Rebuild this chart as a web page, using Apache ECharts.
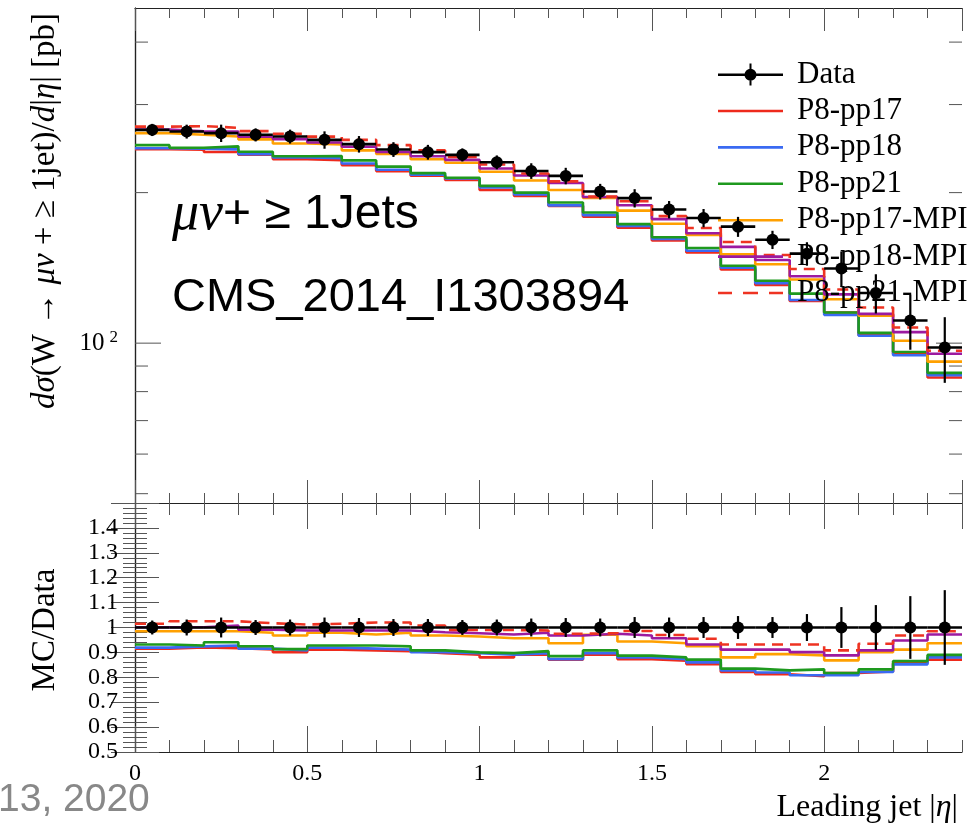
<!DOCTYPE html>
<html>
<head>
<meta charset="utf-8">
<script src="https://cdn.jsdelivr.net/npm/echarts@6/dist/echarts.min.js"></script>
<style>
html, body { margin: 0; padding: 0; background: #fff; }
#main { width: 970px; height: 827px; }
</style>
</head>
<body>
<div id="main"></div>
<script>
// bins of leading jet |eta|
var binEdges = [0, 0.1, 0.2, 0.3, 0.4, 0.5, 0.6, 0.7, 0.8, 0.9, 1.0, 1.1, 1.2,
                1.3, 1.4, 1.5, 1.6, 1.7, 1.8, 1.9, 2.0, 2.1, 2.2, 2.3, 2.4];

// data, pb
var dataValues = [267, 265, 263, 261, 259, 255, 250, 244, 241, 238, 230, 221,
                  216, 201, 195, 185, 178, 171, 161, 151, 141, 126, 111, 98];
// relative error of data
var dataRelErr = [0.028, 0.032, 0.040, 0.030, 0.032, 0.040, 0.038, 0.034, 0.034, 0.030, 0.032, 0.036,
                  0.038, 0.036, 0.042, 0.040, 0.042, 0.046, 0.042, 0.054, 0.082, 0.090, 0.126, 0.150];

// MC/Data ratios
var ratioPP17 = [0.915, 0.920, 0.917, 0.912, 0.901, 0.911, 0.908, 0.905, 0.897, 0.891, 0.880, 0.891,
                 0.871, 0.891, 0.873, 0.867, 0.853, 0.821, 0.812, 0.804, 0.817, 0.823, 0.857, 0.871];
var ratioPP18 = [0.919, 0.924, 0.928, 0.915, 0.908, 0.919, 0.915, 0.911, 0.901, 0.897, 0.891, 0.897,
                 0.873, 0.897, 0.880, 0.873, 0.860, 0.828, 0.819, 0.808, 0.808, 0.821, 0.852, 0.880];
var ratioPP21 = [0.932, 0.928, 0.941, 0.925, 0.913, 0.928, 0.928, 0.924, 0.908, 0.900, 0.897, 0.905,
                 0.885, 0.908, 0.887, 0.880, 0.871, 0.835, 0.828, 0.832, 0.817, 0.832, 0.865, 0.890];
var ratioPP17MPI = [0.985, 0.985, 0.985, 0.979, 0.968, 0.979, 0.972, 0.979, 0.968, 0.964, 0.957, 0.957,
                    0.937, 0.971, 0.944, 0.937, 0.925, 0.880, 0.893, 0.888, 0.868, 0.901, 0.911, 0.937];
var ratioPP18MPI = [1.001, 1.001, 1.008, 0.991, 0.988, 0.988, 0.988, 0.988, 0.981, 0.977, 0.972, 0.979,
                    0.968, 0.975, 0.968, 0.957, 0.932, 0.911, 0.911, 0.901, 0.888, 0.908, 0.948, 0.972];
var ratioPP21MPI = [1.015, 1.025, 1.025, 1.017, 1.012, 1.015, 1.020, 1.020, 1.008, 0.990, 0.990, 0.988,
                    0.975, 0.977, 0.986, 0.970, 0.955, 0.932, 0.932, 0.932, 0.908, 0.935, 0.968, 0.985];

var mcNames = ['P8-pp17', 'P8-pp18', 'P8-pp21', 'P8-pp17-MPI', 'P8-pp18-MPI', 'P8-pp21-MPI'];
var mcRatios = [ratioPP17, ratioPP18, ratioPP21, ratioPP17MPI, ratioPP18MPI, ratioPP21MPI];
var mcColors = ['#ee2a1c', '#3a6af2', '#1e991e', '#ffa000', '#9c1aa0', '#ee3322'];
var mcDashed = [false, false, false, false, false, true];

// log axis ticks of the upper panel
var logMajorTicks = [100];
var logMinorTicks = [50, 60, 70, 80, 90, 200, 300, 400];

var serif = 'Liberation Serif';
var sans = 'Liberation Sans';
var axisColor = '#222';
var tickColor = '#555';
var lineW = 2.6;

var myChart = echarts.init(document.getElementById('main'));

function stepData(vals) {
    var pts = [];
    for (var i = 0; i < vals.length; i++) {
        pts.push([binEdges[i], vals[i]]);
    }
    pts.push([binEdges[vals.length], vals[vals.length - 1]]);
    return pts;
}

// data points with error bars
function renderData(params, api) {
    var x = api.value(0), y = api.value(1), e = api.value(2);
    var l = api.coord([x - 0.05, y]);
    var r = api.coord([x + 0.05, y]);
    var t = api.coord([x, y + e]);
    var b = api.coord([x, y - e]);
    var c = api.coord([x, y]);
    return {
        type: 'group',
        children: [
            {type: 'line', shape: {x1: l[0], y1: l[1], x2: r[0], y2: r[1]}, style: {stroke: '#000', lineWidth: 2.6}},
            {type: 'line', shape: {x1: t[0], y1: t[1], x2: b[0], y2: b[1]}, style: {stroke: '#000', lineWidth: 2.2}},
            {type: 'circle', shape: {cx: c[0], cy: c[1], r: 6}, style: {fill: '#000'}}
        ]
    };
}

// log ticks on both sides of the upper frame
function renderLogTicks(params, api) {
    var v = api.value(1), len = api.value(2);
    var l = api.coord([0, v]);
    var r = api.coord([2.4, v]);
    return {
        type: 'group',
        children: [
            {type: 'line', shape: {x1: l[0], y1: l[1], x2: l[0] + len, y2: l[1]}, style: {stroke: tickColor, lineWidth: 1}},
            {type: 'line', shape: {x1: r[0] - len, y1: r[1], x2: r[0], y2: r[1]}, style: {stroke: tickColor, lineWidth: 1}}
        ]
    };
}

function xAx(grid, pos, step, len, labels) {
    return {
        type: 'value', gridIndex: grid, position: pos, min: 0, max: 2.4, interval: step,
        axisLine: {show: step < 0.2, lineStyle: {color: axisColor, width: 1.2}},
        axisTick: {show: true, inside: true, length: len, lineStyle: {color: tickColor, width: 1}},
        axisLabel: {
            show: labels, margin: 10, color: '#000', fontFamily: serif, fontSize: 24,
            showMaxLabel: false,
            formatter: function (v) { return v > 2.2 ? '' : String(v); }
        },
        splitLine: {show: false}
    };
}

function ratioAx(pos, labels) {
    return {
        type: 'value', gridIndex: 1, position: pos, min: 0.5, max: 1.5, interval: 0.1,
        axisLine: {show: true, lineStyle: {color: axisColor, width: 1.2}},
        axisTick: {show: true, inside: true, length: 24, lineStyle: {color: tickColor, width: 1}},
        minorTick: {show: true, splitNumber: 5, length: 12, lineStyle: {color: tickColor, width: 1}},
        axisLabel: {
            show: labels, margin: 17, color: '#000', fontFamily: serif, fontSize: 24,
            formatter: function (v) { return v > 1.45 ? '' : String(+v.toFixed(1)); }
        },
        splitLine: {show: false}
    };
}

var series = [];
mcNames.forEach(function (name, k) {
    var r = mcRatios[k];
    var style = {color: mcColors[k], width: lineW, type: mcDashed[k] ? [11, 7] : 'solid'};
    series.push({
        name: name, type: 'line', step: 'end', symbol: 'none', xAxisIndex: 0, yAxisIndex: 0,
        lineStyle: style, itemStyle: {color: mcColors[k]}, z: 2,
        data: stepData(dataValues.map(function (d, i) { return d * r[i]; }))
    });
    series.push({
        name: name, type: 'line', step: 'end', symbol: 'none', xAxisIndex: 4, yAxisIndex: 2,
        lineStyle: style, itemStyle: {color: mcColors[k]}, z: 2,
        data: stepData(r)
    });
});

series.push({
    name: 'Data', type: 'custom', xAxisIndex: 0, yAxisIndex: 0, z: 5,
    itemStyle: {color: '#000'}, renderItem: renderData,
    data: dataValues.map(function (v, i) { return [binEdges[i] + 0.05, v, v * dataRelErr[i]]; })
});
series.push({
    name: 'Data', type: 'custom', xAxisIndex: 4, yAxisIndex: 2, z: 5,
    itemStyle: {color: '#000'}, renderItem: renderData,
    data: dataRelErr.map(function (e, i) { return [binEdges[i] + 0.05, 1, e]; })
});
series.push({
    name: 'logticks', type: 'custom', xAxisIndex: 0, yAxisIndex: 0, z: 1, silent: true,
    renderItem: renderLogTicks,
    data: logMinorTicks.map(function (v) { return [0, v, 13]; })
        .concat(logMajorTicks.map(function (v) { return [0, v, 26]; }))
});

// legend icons in a 65 x 30 box (corner specks fix the box)
var box = 'M0 0L0.1 0L0.1 0.1Z M65 30L64.9 30L64.9 29.9Z ';
var dataIcon = 'path://' + box + 'M0 14L65 14L65 16.5L0 16.5Z M31.5 4L33.5 4L33.5 26L31.5 26Z' +
    'M38.5 15.2A6 6 0 1 1 26.5 15.2A6 6 0 1 1 38.5 15.2Z';
var lineIcon = 'path://' + box + 'M0 13.8L65 13.8L65 16.4L0 16.4Z';
var dashIcon = 'path://' + box + 'M0 13.8L14 13.8L14 16.4L0 16.4Z M25 13.8L40 13.8L40 16.4L25 16.4Z' +
    'M51 13.8L65 13.8L65 16.4L51 16.4Z';

var legendData = [{name: 'Data', icon: dataIcon}];
mcNames.forEach(function (name, k) {
    legendData.push({name: name, icon: mcDashed[k] ? dashIcon : lineIcon});
});

var option = {
    animation: false,
    backgroundColor: '#fff',
    grid: [
        {left: 135, top: 8, right: 8, height: 495},
        {left: 135, top: 503, right: 8, height: 249}
    ],
    xAxis: [
        xAx(0, 'bottom', 0.1, 10, false),
        xAx(0, 'top', 0.1, 10, false),
        xAx(0, 'bottom', 0.5, 23, false),
        xAx(0, 'top', 0.5, 23, false),
        xAx(1, 'bottom', 0.1, 12, false),
        xAx(1, 'top', 0.1, 12, false),
        xAx(1, 'bottom', 0.5, 26, true),
        xAx(1, 'top', 0.5, 26, false)
    ],
    yAxis: [
        {
            type: 'log', gridIndex: 0, position: 'left', min: 47.9, max: 468,
            axisLine: {show: true, lineStyle: {color: axisColor, width: 1.2}},
            axisTick: {show: false},
            axisLabel: {
                margin: 17, color: '#000', fontFamily: serif, fontSize: 25,
                formatter: function (v) { return Math.abs(v - 100) < 0.01 ? '10{s|2}' : ''; },
                rich: {s: {fontFamily: serif, fontSize: 17, color: '#000', padding: [0, 0, 12, 5]}}
            },
            splitLine: {show: false}
        },
        {
            type: 'log', gridIndex: 0, position: 'right', min: 47.9, max: 468,
            axisLine: {show: true, lineStyle: {color: axisColor, width: 1.2}},
            axisTick: {show: false}, axisLabel: {show: false}, splitLine: {show: false}
        },
        ratioAx('left', true),
        ratioAx('right', false)
    ],
    legend: {
        orient: 'vertical', left: 713, top: 54, selectedMode: false,
        itemWidth: 65, itemHeight: 30, itemGap: 5.4,
        textStyle: {fontFamily: serif, fontSize: 31, color: '#000', lineHeight: 30, padding: [0, 0, 0, 9]},
        data: legendData
    },
    graphic: [
        {
            type: 'text', x: 45, y: 211, rotation: Math.PI / 2,
            style: {
                text: '{i|d\u03c3}(W \u2192 {i|\u03bc\u03bd} + \u2265 1jet)/{i|d}|{i|\u03b7}| [pb]',
                fontFamily: serif, fontSize: 33, fill: '#000', align: 'center', verticalAlign: 'middle',
                rich: {i: {fontFamily: serif, fontSize: 33, fontStyle: 'italic', fill: '#000'}}
            }
        },
        {
            type: 'text', x: 45, y: 630, rotation: Math.PI / 2,
            style: {text: 'MC/Data', fontFamily: serif, fontSize: 33, fill: '#000', align: 'center', verticalAlign: 'middle'}
        },
        {
            type: 'text', x: 958, y: 808,
            style: {
                text: 'Leading jet |{i|\u03b7}|', fontFamily: serif, fontSize: 32, fill: '#000',
                align: 'right', verticalAlign: 'middle',
                rich: {i: {fontFamily: serif, fontSize: 32, fontStyle: 'italic', fill: '#000'}}
            }
        },
        {
            type: 'text', x: 172, y: 215,
            style: {
                text: '{i|\u03bc\u03bd}+ \u2265 1Jets', fontFamily: sans, fontSize: 48, fill: '#000',
                align: 'left', verticalAlign: 'middle',
                rich: {i: {fontFamily: serif, fontSize: 54, fontStyle: 'italic', fill: '#000'}}
            }
        },
        {
            type: 'text', x: 172, y: 298,
            style: {text: 'CMS_2014_I1303894', fontFamily: sans, fontSize: 47, fill: '#000', align: 'left', verticalAlign: 'middle'}
        },
        {
            type: 'text', x: -2, y: 800,
            style: {text: '13, 2020', fontFamily: sans, fontSize: 39, fill: '#888', align: 'left', verticalAlign: 'middle'}
        }
    ],
    series: series
};

myChart.setOption(option);
</script>
</body>
</html>
